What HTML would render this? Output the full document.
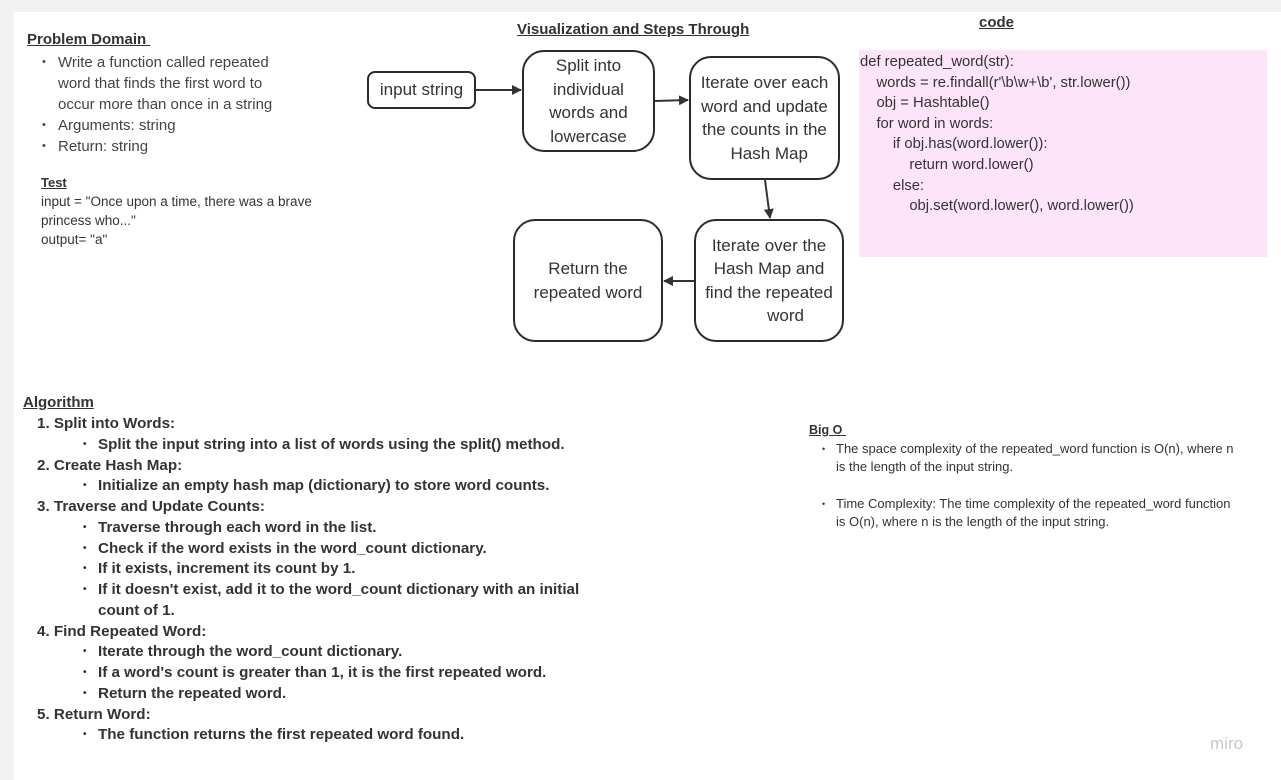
<!DOCTYPE html>
<html><head><meta charset="utf-8"><style>
body{margin:0;width:1281px;height:780px;background:#f1f1f1;position:relative;overflow:hidden;font-family:"Liberation Sans","DejaVu Sans",sans-serif;color:#333}
#c{position:absolute;left:14px;top:12px;width:1267px;height:768px;background:#fff}
.a{position:absolute;white-space:nowrap}
.box{position:absolute;border:2px solid #2b2b2b;border-radius:22px;display:flex;align-items:center;justify-content:center;text-align:center;font-size:17px;line-height:23.5px;color:#333;box-sizing:border-box;background:#fff}
u{text-decoration:underline}
</style></head><body>
<div id="c"></div>
<div class="a" style="left:27px;top:31px;font-size:15px;font-weight:bold"><u>Problem Domain&nbsp;</u></div>
<div style="position:absolute;left:58px;top:52px;font-size:15px;line-height:21px;color:#444">
<div style="position:relative">Write a function called repeated<br>word that finds the first word to<br>occur more than once in a string<span style="position:absolute;left:-16px;top:0;font-size:11px">•</span></div>
<div style="position:relative">Arguments: string<span style="position:absolute;left:-16px;top:0;font-size:11px">•</span></div>
<div style="position:relative">Return: string<span style="position:absolute;left:-16px;top:0;font-size:11px">•</span></div>
</div>
<div class="a" style="left:41px;top:175px;font-size:13px;font-weight:bold"><u>Test</u></div>
<div class="a" style="left:41px;top:192px;font-size:13.5px;line-height:19px;color:#333">input = "Once upon a time, there was a brave<br>princess who..."<br>output= "a"</div>

<div class="a" style="left:517px;top:21px;font-size:15px;font-weight:bold"><u>Visualization and Steps Through</u></div>
<div class="a" style="left:979px;top:14px;font-size:15px;font-weight:bold"><u>code</u></div>

<div class="box" style="left:367px;top:71px;width:109px;height:38px;border-radius:8px">input string</div>
<div class="box" style="left:522px;top:50px;width:133px;height:102px">Split into<br>individual<br>words and<br>lowercase</div>
<div class="box" style="left:689px;top:56px;width:151px;height:124px">Iterate over each<br>word and update<br>the counts in the<br>&nbsp;&nbsp;Hash Map</div>
<div class="box" style="left:513px;top:219px;width:150px;height:123px">Return the<br>repeated word</div>
<div class="box" style="left:694px;top:219px;width:150px;height:123px">Iterate over the<br>Hash Map and<br>find the repeated<br>&nbsp;&nbsp;&nbsp;&nbsp;&nbsp;&nbsp;&nbsp;word</div>
<svg style="position:absolute;left:0;top:0" width="1281" height="780">
<defs><marker id="m" markerWidth="10" markerHeight="10" refX="9" refY="5" orient="auto" markerUnits="userSpaceOnUse"><path d="M0,0 L10,5 L0,10 Z" fill="#333"/></marker></defs>
<g stroke="#333" stroke-width="2" fill="none">
<line x1="476" y1="90" x2="521" y2="90" marker-end="url(#m)"/>
<line x1="655" y1="101" x2="688" y2="100" marker-end="url(#m)"/>
<line x1="765" y1="180" x2="770" y2="218" marker-end="url(#m)"/>
<line x1="694" y1="281" x2="664" y2="281" marker-end="url(#m)"/>
</g></svg>

<div style="position:absolute;left:859px;top:50px;width:408px;height:207px;background:#fde4f8"></div>
<div class="a" style="left:860px;top:52px;font-size:14.8px;line-height:20.6px;color:#333">def repeated_word(str):<br>&nbsp;&nbsp;&nbsp;&nbsp;words = re.findall(r'\b\w+\b', str.lower())<br>&nbsp;&nbsp;&nbsp;&nbsp;obj = Hashtable()<br>&nbsp;&nbsp;&nbsp;&nbsp;for word in words:<br>&nbsp;&nbsp;&nbsp;&nbsp;&nbsp;&nbsp;&nbsp;&nbsp;if obj.has(word.lower()):<br>&nbsp;&nbsp;&nbsp;&nbsp;&nbsp;&nbsp;&nbsp;&nbsp;&nbsp;&nbsp;&nbsp;&nbsp;return word.lower()<br>&nbsp;&nbsp;&nbsp;&nbsp;&nbsp;&nbsp;&nbsp;&nbsp;else:<br>&nbsp;&nbsp;&nbsp;&nbsp;&nbsp;&nbsp;&nbsp;&nbsp;&nbsp;&nbsp;&nbsp;&nbsp;obj.set(word.lower(), word.lower())</div>

<div class="a" style="left:23px;top:394px;font-size:15px;font-weight:bold"><u>Algorithm</u></div>
<div style="position:absolute;left:37px;top:414px;font-size:15.2px;line-height:20.75px;font-weight:bold;color:#333;white-space:nowrap">
<div>1. Split into Words:</div>
<div style="padding-left:61px;position:relative"><span style="position:absolute;left:46px;font-size:10px">•</span>Split the input string into a list of words using the split() method.</div>
<div>2. Create Hash Map:</div>
<div style="padding-left:61px;position:relative"><span style="position:absolute;left:46px;font-size:10px">•</span>Initialize an empty hash map (dictionary) to store word counts.</div>
<div>3. Traverse and Update Counts:</div>
<div style="padding-left:61px;position:relative"><span style="position:absolute;left:46px;font-size:10px">•</span>Traverse through each word in the list.</div>
<div style="padding-left:61px;position:relative"><span style="position:absolute;left:46px;font-size:10px">•</span>Check if the word exists in the word_count dictionary.</div>
<div style="padding-left:61px;position:relative"><span style="position:absolute;left:46px;font-size:10px">•</span>If it exists, increment its count by 1.</div>
<div style="padding-left:61px;position:relative"><span style="position:absolute;left:46px;font-size:10px">•</span>If it doesn't exist, add it to the word_count dictionary with an initial<br>count of 1.</div>
<div>4. Find Repeated Word:</div>
<div style="padding-left:61px;position:relative"><span style="position:absolute;left:46px;font-size:10px">•</span>Iterate through the word_count dictionary.</div>
<div style="padding-left:61px;position:relative"><span style="position:absolute;left:46px;font-size:10px">•</span>If a word's count is greater than 1, it is the first repeated word.</div>
<div style="padding-left:61px;position:relative"><span style="position:absolute;left:46px;font-size:10px">•</span>Return the repeated word.</div>
<div>5. Return Word:</div>
<div style="padding-left:61px;position:relative"><span style="position:absolute;left:46px;font-size:10px">•</span>The function returns the first repeated word found.</div>
</div>

<div class="a" style="left:809px;top:423px;font-size:12.5px;font-weight:bold"><u>Big O&nbsp;</u></div>
<div style="position:absolute;left:836px;top:440px;font-size:13px;line-height:18.3px;color:#333;white-space:nowrap">
<div style="position:relative"><span style="position:absolute;left:-14px;font-size:9px">•</span>The space complexity of the repeated_word function is O(n), where n<br>is the length of the input string.</div>
<div style="height:18px"></div>
<div style="position:relative"><span style="position:absolute;left:-14px;font-size:9px">•</span>Time Complexity: The time complexity of the repeated_word function<br>is O(n), where n is the length of the input string.</div>
</div>
<div class="a" style="left:1210px;top:734px;font-size:17px;color:#c8c8c8">miro</div>
</body></html>
